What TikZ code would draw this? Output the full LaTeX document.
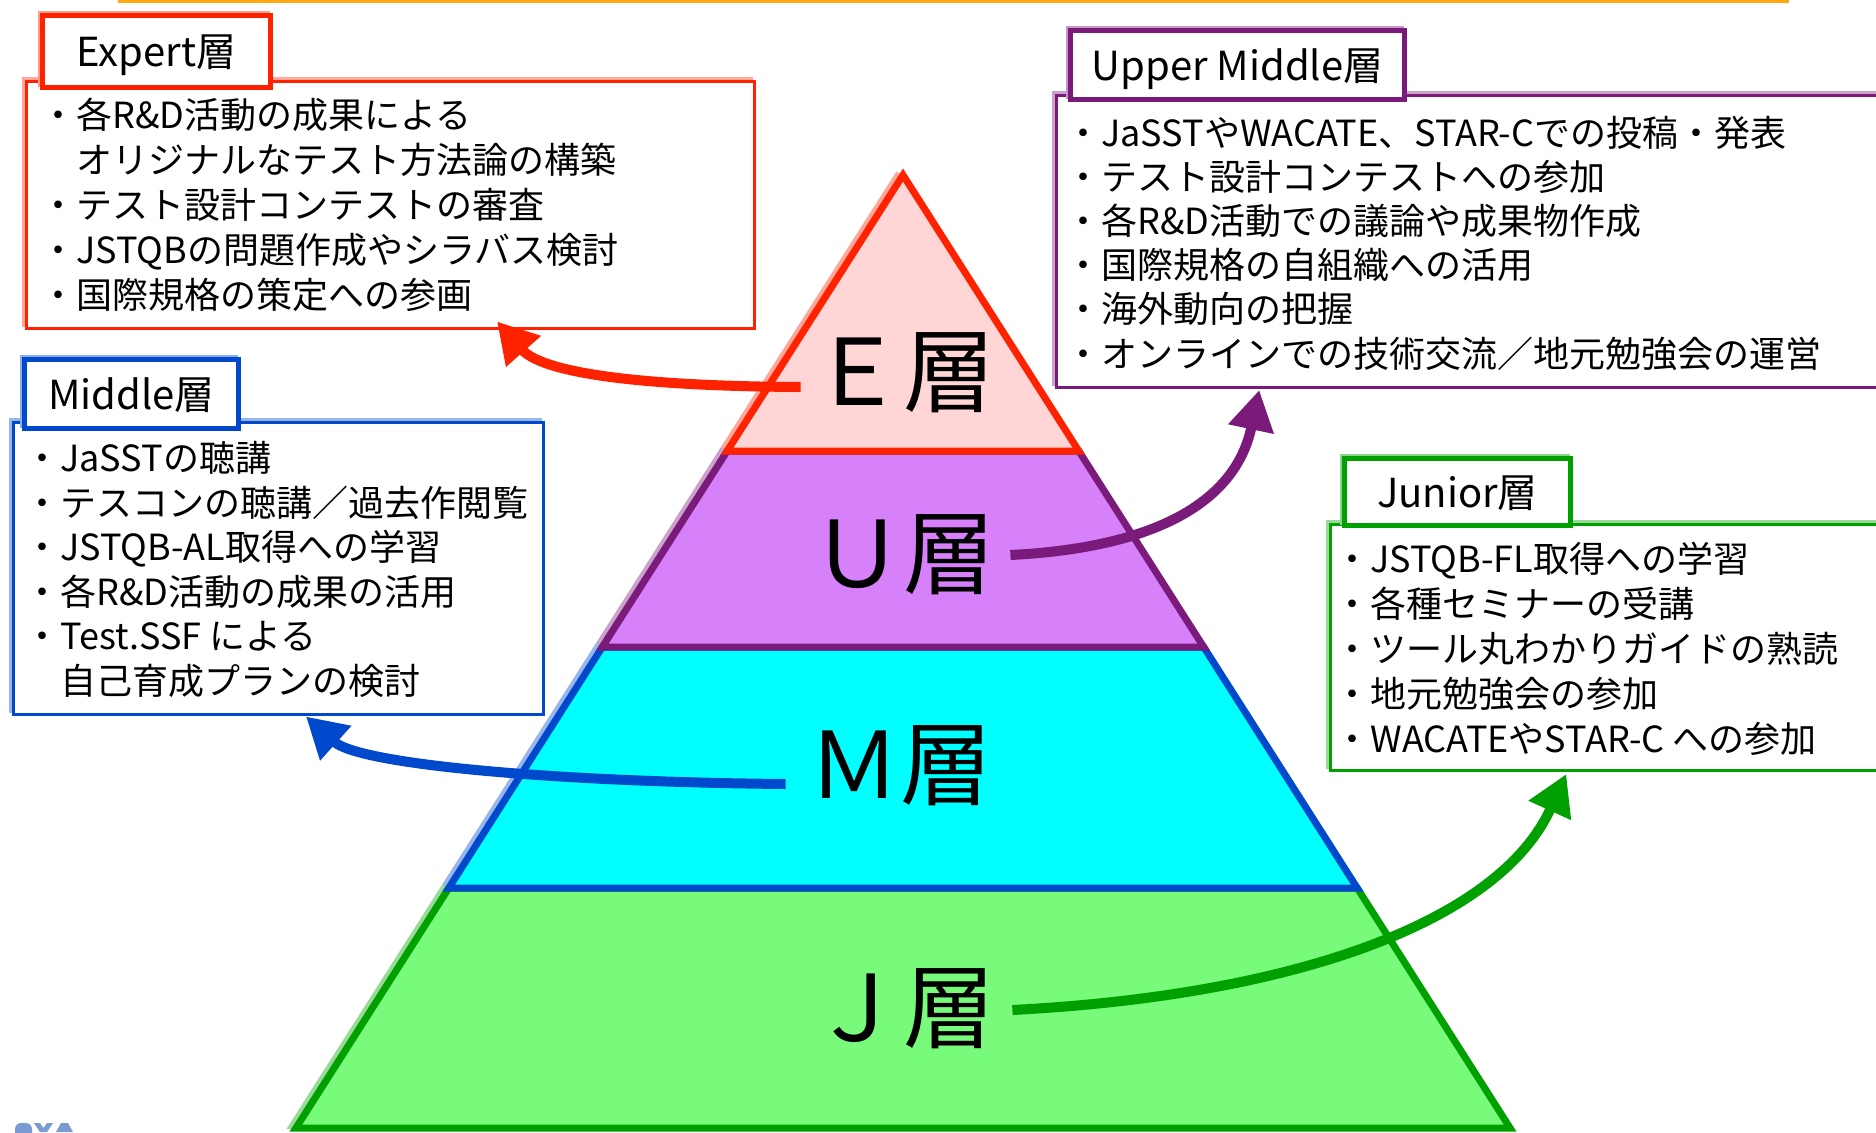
\documentclass[tikz,border=0pt]{standalone}
\usepackage{fontspec}
\setmainfont{Noto Sans CJK JP}
\usetikzlibrary{arrows.meta,calc}
\definecolor{eRed}{RGB}{255,34,0}
\definecolor{eFill}{RGB}{255,213,213}
\definecolor{uPur}{RGB}{122,26,122}
\definecolor{uFill}{RGB}{214,128,250}
\definecolor{mBlue}{RGB}{0,72,204}
\definecolor{mFill}{RGB}{0,255,255}
\definecolor{jGreen}{RGB}{0,160,0}
\definecolor{jFill}{RGB}{120,250,122}
\definecolor{topOrange}{RGB}{255,170,20}
\definecolor{logoBlue}{RGB}{120,155,210}
\begin{document}
\begin{tikzpicture}[x=0.5pt,y=-0.5pt,
  layer/.style={line width=3.5pt, line join=miter},
  titlebox/.style={draw=#1, line width=2.5pt, fill=white, inner sep=0pt,
    text height=17.6pt, text depth=2.4pt,
    font=\fontsize{20pt}{23pt}\selectfont,
    preaction={draw=#1!45, line width=2pt, transform canvas={shift={(-1.5pt,1.5pt)}}}},
  contentbox/.style={draw=#1, line width=1.5pt, fill=white, inner sep=0pt,
    preaction={draw=#1!40, line width=1.5pt, transform canvas={shift={(-1.5pt,1.5pt)}}}},
  item/.style={inner sep=0pt, anchor=base west, font=\fontsize{18pt}{22pt}\selectfont},
  lvl/.style={inner sep=0pt, text height=40.5pt, text depth=5.5pt,
    font=\fontsize{46pt}{50pt}\selectfont},
  arr/.style={draw=#1, line width=5pt, -{Triangle[length=20pt,width=22pt]}}
]
\useasboundingbox (0,0) rectangle (1876,1132);
\clip (0,0) rectangle (1876,1132);

% top rule
\draw[topOrange, line width=1.5pt] (118,1.5) -- (1789,1.5);

% partial logo at bottom left
\fill[logoBlue, rounded corners=3pt] (15,1123) rectangle (32,1140);
\fill[logoBlue] (34,1123) -- (40,1123) -- (43.5,1128) -- (47,1123) -- (53,1123) -- (47,1132) -- (40,1132) -- cycle;
\fill[logoBlue] (56,1132) -- (61,1123) -- (68,1123) -- (73,1132) -- cycle;

% pyramid geometry
\coordinate (apex) at (903,175);
\coordinate (eL) at (727.2,451);  \coordinate (eR) at (1078.8,451);
\coordinate (uL) at (602.3,647);  \coordinate (uR) at (1203.7,647);
\coordinate (mL) at (448.8,888);  \coordinate (mR) at (1357.2,888);
\coordinate (jL) at (295.9,1128); \coordinate (jR) at (1510.1,1128);

% soft offset outline
\begin{scope}[transform canvas={shift={(-2pt,1pt)}}, opacity=0.4, line width=3pt]
  \draw[jGreen] (mL) -- (jL) -- (jR);
  \draw[mBlue] (uL) -- (mL);
  \draw[uPur] (eL) -- (uL);
  \draw[eRed] (eL) -- (apex);
\end{scope}

% layers
\draw[layer, fill=jFill, draw=jGreen] (mL) -- (mR) -- (jR) -- (jL) -- cycle;
\draw[layer, fill=mFill, draw=mBlue] (uL) -- (uR) -- (mR) -- (mL) -- cycle;
\draw[layer, fill=uFill, draw=uPur] (eL) -- (eR) -- (uR) -- (uL) -- cycle;
\draw[layer, fill=eFill, draw=eRed] (apex) -- (eR) -- (eL) -- cycle;

% layer labels
\node[lvl] (Elab) at (903,370) {Ｅ層};
\node[lvl] (Ulab) at (903,552) {Ｕ層};
\node[lvl] (Mlab) at (900,763) {Ｍ層};
\node[lvl] (Jlab) at (903,1006) {Ｊ層};

% content boxes
\node[contentbox=eRed, minimum width=364pt, minimum height=123.5pt] (expC) at (390.5,205) {};
\node[contentbox=uPur, minimum width=416.75pt, minimum height=146pt] (umC) at (1473.25,241.5) {};
\node[contentbox=mBlue, minimum width=265pt, minimum height=146pt] (midC) at (278.5,568.5) {};
\node[contentbox=jGreen, minimum width=279.75pt, minimum height=123pt] (junC) at (1610.25,647.5) {};

% title boxes
\node[titlebox=eRed, minimum width=114pt, minimum height=36pt] (expT) at (156.5,51.5) {Expert層};
\node[titlebox=uPur, minimum width=167pt, minimum height=34.5pt] (umT) at (1237.5,65) {Upper Middle層};
\node[titlebox=mBlue, minimum width=107pt, minimum height=34.5pt] (midT) at (131.5,394) {Middle層};
\node[titlebox=jGreen, minimum width=113pt, minimum height=33.5pt] (junT) at (1457.5,492) {Junior層};

% items
\foreach \t [count=\i from 0] in {{・各R\&D活動の成果による},{　オリジナルなテスト方法論の構築},{・テスト設計コンテストの審査},{・JSTQBの問題作成やシラバス検討},{・国際規格の策定への参画}}
  \node[item] (ex\i) at (40,128+45*\i) {\t};
\foreach \t [count=\i from 0] in {{・JaSSTやWACATE、STAR-Cでの投稿・発表},{・テスト設計コンテストへの参加},{・各R\&D活動での議論や成果物作成},{・国際規格の自組織への活用},{・海外動向の把握},{・オンラインでの技術交流／地元勉強会の運営}}
  \node[item] (um\i) at (1065,146+44.2*\i) {\t};
\foreach \t [count=\i from 0] in {{・JaSSTの聴講},{・テスコンの聴講／過去作閲覧},{・JSTQB-AL取得への学習},{・各R\&D活動の成果の活用},{・Test.SSF による},{　自己育成プランの検討}}
  \node[item] (md\i) at (24,471.5+44.5*\i) {\t};
\foreach \t [count=\i from 0] in {{・JSTQB-FL取得への学習},{・各種セミナーの受講},{・ツール丸わかりガイドの熟読},{・地元勉強会の参加},{・WACATEやSTAR-C への参加}}
  \node[item] (jn\i) at (1334,572+45*\i) {\t};

% arrows
\draw[arr=eRed] ($(Elab.west)+(-10,17)$) .. controls (620,386) and (540,370) .. ($(expC.south)+(106.5,-8.5)$);
\draw[arr=uPur] ($(Ulab.east)+(15,3)$) .. controls (1150,548) and (1235,505) .. ($(umC.south)+(-214,1)$);
\draw[arr=mBlue] ($(Mlab.west)+(-22,21)$) .. controls (560,782) and (360,765) .. ($(midC.south)+(27.5,0.5)$);
\draw[arr=jGreen] ($(Jlab.east)+(17,4)$) .. controls (1300,995) and (1500,920) .. ($(junC.south)+(-44,2)$);
\end{tikzpicture}
\end{document}
